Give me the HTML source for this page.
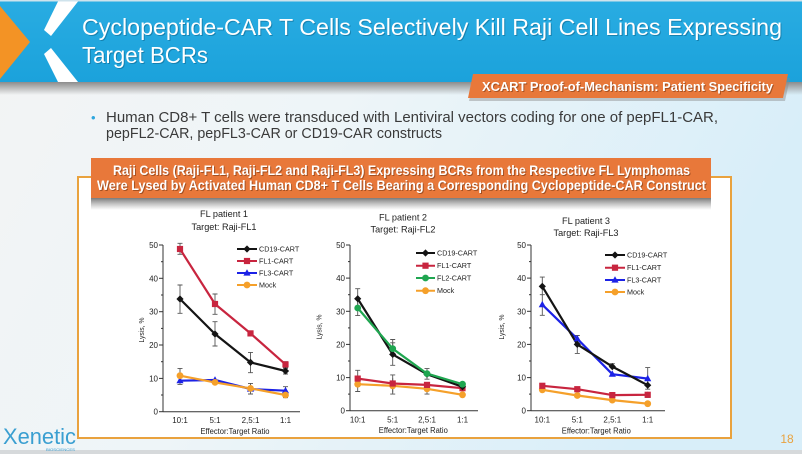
<!DOCTYPE html>
<html><head><meta charset="utf-8"><style>
html,body{margin:0;padding:0;}
body{width:802px;height:454px;overflow:hidden;}
svg{display:block;font-family:"Liberation Sans",sans-serif;}
</style></head><body>
<svg width="802" height="454" viewBox="0 0 802 454" xmlns="http://www.w3.org/2000/svg">
<defs>
<linearGradient id="bg" x1="0" y1="0" x2="1" y2="0.3">
<stop offset="0" stop-color="#f3f4f4"/><stop offset="0.45" stop-color="#eef5f8"/><stop offset="1" stop-color="#d8eef9"/>
</linearGradient>
<linearGradient id="hdr" x1="0" y1="0" x2="0" y2="1">
<stop offset="0" stop-color="#29ace2"/><stop offset="1" stop-color="#1ba2db"/>
</linearGradient>
<linearGradient id="sh" x1="0" y1="0" x2="0" y2="1">
<stop offset="0" stop-color="#8c8c8c"/><stop offset="1" stop-color="#8c8c8c" stop-opacity="0"/>
</linearGradient>
<linearGradient id="sh2" x1="0" y1="0" x2="0" y2="1">
<stop offset="0" stop-color="#7a7a7a"/><stop offset="1" stop-color="#9a9a9a" stop-opacity="0"/>
</linearGradient>
<g id="dia"><polygon points="0,-3.6 3.6,0 0,3.6 -3.6,0"/></g>
<g id="sq"><rect x="-3.1" y="-3.1" width="6.2" height="6.2"/></g>
<g id="tri"><polygon points="0,-3.8 3.6,2.6 -3.6,2.6"/></g>
<g id="cir"><circle r="3.4"/></g>
</defs>

<!-- background -->
<rect x="0" y="0" width="802" height="454" fill="url(#bg)"/>
<rect x="0" y="450" width="802" height="4" fill="#d6d9db"/>

<!-- header -->
<rect x="0" y="82" width="802" height="13" fill="url(#sh)"/>
<rect x="0" y="1" width="802" height="81" fill="url(#hdr)"/>
<rect x="0" y="0" width="802" height="1.5" fill="#cfe3ec"/>
<polygon points="0,6 30,42 0,79" fill="#f39325"/>
<polygon points="58,1.5 78,1.5 51,36 44,30" fill="#ffffff"/>
<polygon points="44,54 51,48 78,82 58,82" fill="#ffffff"/>
<g font-size="23" fill="#ffffff">
<text x="83" y="36" textLength="700" lengthAdjust="spacingAndGlyphs" fill="#0b5e84" opacity="0.5">Cyclopeptide-CAR T Cells Selectively Kill Raji Cell Lines Expressing</text>
<text x="82" y="35" textLength="700" lengthAdjust="spacingAndGlyphs">Cyclopeptide-CAR T Cells Selectively Kill Raji Cell Lines Expressing</text>
<text x="83" y="64" textLength="126" lengthAdjust="spacingAndGlyphs" fill="#0b5e84" opacity="0.5">Target BCRs</text>
<text x="82" y="63" textLength="126" lengthAdjust="spacingAndGlyphs">Target BCRs</text>
</g>

<!-- orange tag -->
<polygon points="474,78 790,78 785,101 469,101" fill="#8a8a8a" opacity="0.45"/>
<polygon points="473,74 788,74 783,98 468,98" fill="#e8783a"/>
<text x="483" y="92" font-size="13" font-weight="bold" fill="#7a3a15" opacity="0.6" textLength="291" lengthAdjust="spacingAndGlyphs">XCART Proof-of-Mechanism: Patient Specificity</text>
<text x="482" y="91" font-size="13" font-weight="bold" fill="#ffffff" textLength="291" lengthAdjust="spacingAndGlyphs">XCART Proof-of-Mechanism: Patient Specificity</text>

<!-- bullet -->
<text x="91" y="122" font-size="13" fill="#2ea6de">•</text>
<text x="106" y="122" font-size="15" fill="#3a3a3a" textLength="612" lengthAdjust="spacingAndGlyphs">Human CD8+ T cells were transduced with Lentiviral vectors coding for one of pepFL1-CAR,</text>
<text x="106" y="138" font-size="15" fill="#3a3a3a" textLength="336" lengthAdjust="spacingAndGlyphs">pepFL2-CAR, pepFL3-CAR or CD19-CAR constructs</text>

<!-- frame -->
<rect x="78" y="177" width="653" height="261" fill="#ffffff" stroke="#e9a23e" stroke-width="2"/>
<rect x="91" y="198" width="620" height="12" fill="url(#sh2)"/>
<rect x="91" y="158" width="620" height="40" fill="#e8783a"/>
<g font-size="14" font-weight="bold">
<text x="114" y="176" fill="#6b3010" opacity="0.55" textLength="577" lengthAdjust="spacingAndGlyphs">Raji Cells (Raji-FL1, Raji-FL2 and Raji-FL3) Expressing BCRs from the Respective FL Lymphomas</text>
<text x="113" y="175" fill="#ffffff" textLength="577" lengthAdjust="spacingAndGlyphs">Raji Cells (Raji-FL1, Raji-FL2 and Raji-FL3) Expressing BCRs from the Respective FL Lymphomas</text>
<text x="98" y="191" fill="#6b3010" opacity="0.55" textLength="609" lengthAdjust="spacingAndGlyphs">Were Lysed by Activated Human CD8+ T Cells Bearing a Corresponding Cyclopeptide-CAR Construct</text>
<text x="97" y="190" fill="#ffffff" textLength="609" lengthAdjust="spacingAndGlyphs">Were Lysed by Activated Human CD8+ T Cells Bearing a Corresponding Cyclopeptide-CAR Construct</text>
</g>

<!-- ================= CHART 1 ================= -->
<g fill="#222" font-size="9.5" text-anchor="middle">
<text x="224" y="217" textLength="48" lengthAdjust="spacingAndGlyphs">FL patient 1</text>
<text x="224" y="230" textLength="65" lengthAdjust="spacingAndGlyphs">Target: Raji-FL1</text>
</g>
<g stroke="#333" stroke-width="1">
<line x1="163" y1="245" x2="163" y2="412"/>
<line x1="163" y1="411.7" x2="300" y2="411.7"/>
<line x1="159" y1="245" x2="163" y2="245"/><line x1="159" y1="278.3" x2="163" y2="278.3"/><line x1="159" y1="311.7" x2="163" y2="311.7"/><line x1="159" y1="345" x2="163" y2="345"/><line x1="159" y1="378.4" x2="163" y2="378.4"/><line x1="159" y1="411.7" x2="163" y2="411.7"/>
<line x1="161" y1="261.7" x2="163" y2="261.7"/><line x1="161" y1="295" x2="163" y2="295"/><line x1="161" y1="328.4" x2="163" y2="328.4"/><line x1="161" y1="361.7" x2="163" y2="361.7"/><line x1="161" y1="395" x2="163" y2="395"/>
</g>
<g fill="#222" font-size="8" text-anchor="end">
<text x="158" y="248">50</text><text x="158" y="281.3">40</text><text x="158" y="314.7">30</text><text x="158" y="348">20</text><text x="158" y="381.4">10</text><text x="158" y="414.7">0</text>
</g>
<g fill="#222" font-size="8" text-anchor="middle">
<text x="180" y="423">10:1</text><text x="215" y="423">5:1</text><text x="250.5" y="423">2,5:1</text><text x="285.5" y="423">1:1</text>
<text x="235" y="434" textLength="69" lengthAdjust="spacingAndGlyphs">Effector:Target Ratio</text>
<text transform="translate(144,330) rotate(-90)" font-size="7.5" textLength="25" lengthAdjust="spacingAndGlyphs">Lysis, %</text>
</g>
<!-- error bars -->
<g stroke="#555" stroke-width="0.9">
<path d="M180,313.3V285M177.5,313.3H182.5M177.5,285H182.5"/>
<path d="M215,346V321.7M212.5,346H217.5M212.5,321.7H217.5"/>
<path d="M250.5,372.7V352.4M248,372.7H253M248,352.4H253"/>
<path d="M285.5,374V367.7M283,374H288M283,367.7H288"/>
<path d="M180,254.3V243.3M177.5,254.3H182.5M177.5,243.3H182.5"/>
<path d="M215,314.3V294M212.5,314.3H217.5M212.5,294H217.5"/>
<path d="M285.5,368.4V361.7M283,368.4H288M283,361.7H288"/>
<path d="M180,384.4V368.4M177.5,384.4H182.5M177.5,368.4H182.5"/>
<path d="M250.5,394V383.4M248,394H253M248,383.4H253"/>
<path d="M285.5,397.7V386.7M283,397.7H288M283,386.7H288"/>
</g>
<g fill="none" stroke-width="2.2" stroke-linejoin="round">
<polyline points="180,299 215,334 250.5,362.4 285.5,371" stroke="#141414"/>
<polyline points="180,249 215,304 250.5,333.4 285.5,364.4" stroke="#c8253f"/>
<polyline points="180,380.7 215,380 250.5,389 285.5,390.7" stroke="#1c22e6"/>
<polyline points="180,375.7 215,382.4 250.5,388.4 285.5,395" stroke="#f5a02a"/>
</g>
<g fill="#141414"><use href="#dia" x="180" y="299"/><use href="#dia" x="215" y="334"/><use href="#dia" x="250.5" y="362.4"/><use href="#dia" x="285.5" y="371"/></g>
<g fill="#c8253f"><use href="#sq" x="180" y="249"/><use href="#sq" x="215" y="304"/><use href="#sq" x="250.5" y="333.4"/><use href="#sq" x="285.5" y="364.4"/></g>
<g fill="#1c22e6"><use href="#tri" x="180" y="380.7"/><use href="#tri" x="215" y="380"/><use href="#tri" x="250.5" y="389"/><use href="#tri" x="285.5" y="390.7"/></g>
<g fill="#f5a02a"><use href="#cir" x="180" y="375.7"/><use href="#cir" x="215" y="382.4"/><use href="#cir" x="250.5" y="388.4"/><use href="#cir" x="285.5" y="395"/></g>
<!-- legend 1 -->
<g stroke-width="2">
<line x1="237" y1="249" x2="257" y2="249" stroke="#141414"/><line x1="237" y1="261" x2="257" y2="261" stroke="#c8253f"/><line x1="237" y1="273" x2="257" y2="273" stroke="#1c22e6"/><line x1="237" y1="285" x2="257" y2="285" stroke="#f5a02a"/>
</g>
<use href="#dia" x="247" y="249" fill="#141414"/><use href="#sq" x="247" y="261" fill="#c8253f"/><use href="#tri" x="247" y="273" fill="#1c22e6"/><use href="#cir" x="247" y="285" fill="#f5a02a"/>
<g fill="#222" font-size="7.2">
<text x="259" y="251.5">CD19-CART</text><text x="259" y="263.5">FL1-CART</text><text x="259" y="275.5">FL3-CART</text><text x="259" y="287.5">Mock</text>
</g>

<!-- ================= CHART 2 ================= -->
<g fill="#222" font-size="9.5" text-anchor="middle">
<text x="403" y="220.5" textLength="48" lengthAdjust="spacingAndGlyphs">FL patient 2</text>
<text x="403" y="232.5" textLength="65" lengthAdjust="spacingAndGlyphs">Target: Raji-FL2</text>
</g>
<g stroke="#333" stroke-width="1">
<line x1="350" y1="245" x2="350" y2="411"/>
<line x1="350" y1="410.7" x2="478" y2="410.7"/>
<line x1="346" y1="245" x2="350" y2="245"/><line x1="346" y1="278.1" x2="350" y2="278.1"/><line x1="346" y1="311.3" x2="350" y2="311.3"/><line x1="346" y1="344.4" x2="350" y2="344.4"/><line x1="346" y1="377.6" x2="350" y2="377.6"/><line x1="346" y1="410.7" x2="350" y2="410.7"/>
<line x1="348" y1="261.6" x2="350" y2="261.6"/><line x1="348" y1="294.7" x2="350" y2="294.7"/><line x1="348" y1="327.9" x2="350" y2="327.9"/><line x1="348" y1="361" x2="350" y2="361"/><line x1="348" y1="394.1" x2="350" y2="394.1"/>
</g>
<g fill="#222" font-size="8" text-anchor="end">
<text x="345" y="248">50</text><text x="345" y="281.1">40</text><text x="345" y="314.3">30</text><text x="345" y="347.4">20</text><text x="345" y="380.6">10</text><text x="345" y="413.7">0</text>
</g>
<g fill="#222" font-size="8" text-anchor="middle">
<text x="357.7" y="422.5">10:1</text><text x="392.7" y="422.5">5:1</text><text x="427" y="422.5">2,5:1</text><text x="462.5" y="422.5">1:1</text>
<text x="413.3" y="433" textLength="69" lengthAdjust="spacingAndGlyphs">Effector:Target Ratio</text>
<text transform="translate(321.5,327) rotate(-90)" font-size="7.5" textLength="25" lengthAdjust="spacingAndGlyphs">Lysis, %</text>
</g>
<g stroke="#555" stroke-width="0.9">
<path d="M357.7,306.3V288.7M355.2,306.3H360.2M355.2,288.7H360.2"/>
<path d="M392.7,365.3V342.8M390.2,365.3H395.2M390.2,342.8H395.2"/>
<path d="M427,379.2V368.6M424.5,379.2H429.5M424.5,368.6H429.5"/>
<path d="M357.7,315.6V299.7M355.2,315.6H360.2"/>
<path d="M392.7,356V339.5M390.2,339.5H395.2"/>
<path d="M357.7,385.8V370.3M355.2,370.3H360.2"/>
<path d="M392.7,392.5V374.9M390.2,374.9H395.2"/>
<path d="M357.7,391.5V377.6M355.2,391.5H360.2"/>
<path d="M392.7,394.1V378.2M390.2,394.1H395.2"/>
<path d="M427,394.1V384.2M424.5,394.1H429.5"/>
</g>
<g fill="none" stroke-width="2.2" stroke-linejoin="round">
<polyline points="357.7,384.2 392.7,385.8 427,388.8 462.5,394.8" stroke="#f5a02a"/>
<polyline points="357.7,378.6 392.7,383.5 427,384.9 462.5,388.2" stroke="#c8253f"/>
<polyline points="357.7,298.7 392.7,354.4 427,374.2 462.5,386.8" stroke="#141414"/>
<polyline points="357.7,308 392.7,348.7 427,373.6 462.5,384.2" stroke="#1fa650"/>
</g>
<g fill="#f5a02a"><use href="#cir" x="357.7" y="384.2"/><use href="#cir" x="392.7" y="385.8"/><use href="#cir" x="427" y="388.8"/><use href="#cir" x="462.5" y="394.8"/></g>
<g fill="#c8253f"><use href="#sq" x="357.7" y="378.6"/><use href="#sq" x="392.7" y="383.5"/><use href="#sq" x="427" y="384.9"/><use href="#sq" x="462.5" y="388.2"/></g>
<g fill="#141414"><use href="#dia" x="357.7" y="298.7"/><use href="#dia" x="392.7" y="354.4"/><use href="#dia" x="427" y="374.2"/><use href="#dia" x="462.5" y="386.8"/></g>
<g fill="#1fa650"><use href="#cir" x="357.7" y="308"/><use href="#cir" x="392.7" y="348.7"/><use href="#cir" x="427" y="373.6"/><use href="#cir" x="462.5" y="384.2"/></g>
<g stroke-width="2">
<line x1="416" y1="253" x2="435" y2="253" stroke="#141414"/><line x1="416" y1="265.7" x2="435" y2="265.7" stroke="#c8253f"/><line x1="416" y1="278" x2="435" y2="278" stroke="#1fa650"/><line x1="416" y1="290.7" x2="435" y2="290.7" stroke="#f5a02a"/>
</g>
<use href="#dia" x="425.5" y="253" fill="#141414"/><use href="#sq" x="425.5" y="265.7" fill="#c8253f"/><use href="#cir" x="425.5" y="278" fill="#1fa650"/><use href="#cir" x="425.5" y="290.7" fill="#f5a02a"/>
<g fill="#222" font-size="7.2">
<text x="437" y="255.5">CD19-CART</text><text x="437" y="268.2">FL1-CART</text><text x="437" y="280.5">FL2-CART</text><text x="437" y="293.2">Mock</text>
</g>

<!-- ================= CHART 3 ================= -->
<g fill="#222" font-size="9.5" text-anchor="middle">
<text x="586" y="224" textLength="48" lengthAdjust="spacingAndGlyphs">FL patient 3</text>
<text x="586" y="236" textLength="65" lengthAdjust="spacingAndGlyphs">Target: Raji-FL3</text>
</g>
<g stroke="#333" stroke-width="1">
<line x1="531" y1="245" x2="531" y2="411"/>
<line x1="531" y1="410.7" x2="665" y2="410.7"/>
<line x1="527" y1="245" x2="531" y2="245"/><line x1="527" y1="278.1" x2="531" y2="278.1"/><line x1="527" y1="311.3" x2="531" y2="311.3"/><line x1="527" y1="344.4" x2="531" y2="344.4"/><line x1="527" y1="377.6" x2="531" y2="377.6"/><line x1="527" y1="410.7" x2="531" y2="410.7"/>
<line x1="529" y1="261.6" x2="531" y2="261.6"/><line x1="529" y1="294.7" x2="531" y2="294.7"/><line x1="529" y1="327.9" x2="531" y2="327.9"/><line x1="529" y1="361" x2="531" y2="361"/><line x1="529" y1="394.1" x2="531" y2="394.1"/>
</g>
<g fill="#222" font-size="8" text-anchor="end">
<text x="526" y="248">50</text><text x="526" y="281.1">40</text><text x="526" y="314.3">30</text><text x="526" y="347.4">20</text><text x="526" y="380.6">10</text><text x="526" y="413.7">0</text>
</g>
<g fill="#222" font-size="8" text-anchor="middle">
<text x="542.3" y="422.5">10:1</text><text x="577.3" y="422.5">5:1</text><text x="612.3" y="422.5">2,5:1</text><text x="647.7" y="422.5">1:1</text>
<text x="596.3" y="433.5" textLength="69" lengthAdjust="spacingAndGlyphs">Effector:Target Ratio</text>
<text transform="translate(504,327) rotate(-90)" font-size="7.5" textLength="25" lengthAdjust="spacingAndGlyphs">Lysis, %</text>
</g>
<g stroke="#555" stroke-width="0.9">
<path d="M542.3,295.4V277.1M539.8,277.1H544.8"/>
<path d="M577.3,353.4V336.1M574.8,353.4H579.8"/>
<path d="M612.3,369.3V363.7M609.8,363.7H614.8"/>
<path d="M647.7,389.2V380.9M645.2,389.2H650.2"/>
<path d="M542.3,315.3V294.7M539.8,315.3H544.8M539.8,294.7H544.8"/>
<path d="M577.3,341.8V335.5M574.8,335.5H579.8"/>
<path d="M647.7,389.2V367.6M645.2,367.6H650.2"/>
<path d="M647.7,397.4V391.8M645.2,397.4H650.2"/>
</g>
<g fill="none" stroke-width="2.2" stroke-linejoin="round">
<polyline points="542.3,389.8 577.3,395.5 612.3,400.1 647.7,403.7" stroke="#f5a02a"/>
<polyline points="542.3,385.8 577.3,389.2 612.3,395.1 647.7,394.8" stroke="#c8253f"/>
<polyline points="542.3,304.7 577.3,338.8 612.3,374.2 647.7,378.6" stroke="#1c22e6"/>
<polyline points="542.3,286.4 577.3,344.4 612.3,366.6 647.7,385.2" stroke="#141414"/>
</g>
<g fill="#f5a02a"><use href="#cir" x="542.3" y="389.8"/><use href="#cir" x="577.3" y="395.5"/><use href="#cir" x="612.3" y="400.1"/><use href="#cir" x="647.7" y="403.7"/></g>
<g fill="#c8253f"><use href="#sq" x="542.3" y="385.8"/><use href="#sq" x="577.3" y="389.2"/><use href="#sq" x="612.3" y="395.1"/><use href="#sq" x="647.7" y="394.8"/></g>
<g fill="#1c22e6"><use href="#tri" x="542.3" y="304.7"/><use href="#tri" x="577.3" y="338.8"/><use href="#tri" x="612.3" y="374.2"/><use href="#tri" x="647.7" y="378.6"/></g>
<g fill="#141414"><use href="#dia" x="542.3" y="286.4"/><use href="#dia" x="577.3" y="344.4"/><use href="#dia" x="612.3" y="366.6"/><use href="#dia" x="647.7" y="385.2"/></g>
<g stroke-width="2">
<line x1="605" y1="255" x2="625" y2="255" stroke="#141414"/><line x1="605" y1="267.7" x2="625" y2="267.7" stroke="#c8253f"/><line x1="605" y1="280" x2="625" y2="280" stroke="#1c22e6"/><line x1="605" y1="292" x2="625" y2="292" stroke="#f5a02a"/>
</g>
<use href="#dia" x="615" y="255" fill="#141414"/><use href="#sq" x="615" y="267.7" fill="#c8253f"/><use href="#tri" x="615" y="280" fill="#1c22e6"/><use href="#cir" x="615" y="292" fill="#f5a02a"/>
<g fill="#222" font-size="7.2">
<text x="627" y="257.5">CD19-CART</text><text x="627" y="270.2">FL1-CART</text><text x="627" y="282.5">FL3-CART</text><text x="627" y="294.5">Mock</text>
</g>

<!-- logo & page number -->
<text x="3" y="444" font-size="22" fill="#3a9fd1" textLength="73" lengthAdjust="spacingAndGlyphs">Xenetic</text>
<text x="46" y="451" font-size="4" fill="#3a9fd1" textLength="29" lengthAdjust="spacingAndGlyphs">BIOSCIENCES</text>
<text x="787" y="443" font-size="12" fill="#e9a23e" text-anchor="middle">18</text>
</svg>
</body></html>
